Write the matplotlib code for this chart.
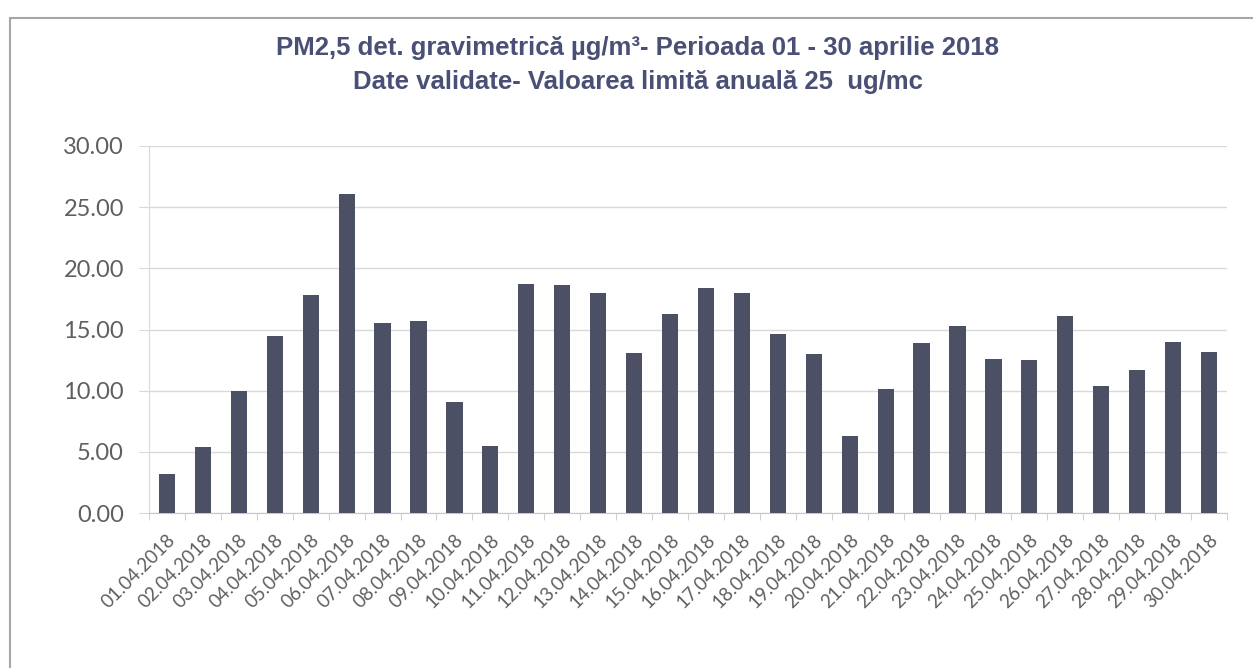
#!/usr/bin/env python3

import matplotlib.pyplot as plt
from matplotlib.patches import Rectangle
import numpy as np

zile = ["%02d.04.2018" % d for d in range(1, 31)]
pm25 = [3.2, 5.4, 10.0, 14.5, 17.8, 26.1, 15.5, 15.7, 9.1, 5.5,
        18.7, 18.6, 18.0, 13.1, 16.3, 18.4, 18.0, 14.6, 13.0, 6.3,
        10.1, 13.9, 15.3, 12.6, 12.5, 16.1, 10.4, 11.7, 14.0, 13.2]
yticks = [0, 5, 10, 15, 20, 25, 30]

titlu = "PM2,5 det. gravimetrică µg/m³- Perioada 01 - 30 aprilie 2018\nDate validate- Valoarea limită anuală 25  ug/mc"

fig = plt.figure(figsize=(12.53, 6.68), dpi=100)
ax = fig.add_axes([149/1253, 1-513/668, (1227-149)/1253, (513-146)/668])

# chenarul graficului
fig.patches.append(Rectangle((10/1253, -0.1), 1.1, 1.1-18/668,
                             transform=fig.transFigure, fill=False,
                             edgecolor="#a6a6a6", lw=1.5))

x = np.arange(len(zile))
ax.bar(x, pm25, width=0.45, color="#4b5065", zorder=3)

ax.set_xlim(-0.5, len(zile) - 0.5)
ax.set_ylim(0, 30)
ax.set_yticks(yticks)
ax.set_yticklabels(["%.2f" % v for v in yticks])
ax.yaxis.grid(True, color="#d9d9d9", lw=1)
ax.set_axisbelow(True)

ax.set_xticks(x)
ax.set_xticklabels(zile, rotation=45, ha="right", rotation_mode="anchor")
ax.set_xticks(np.arange(-0.5, len(zile)), minor=True)
ax.tick_params(axis="x", which="major", length=0, pad=13)
ax.tick_params(axis="x", which="minor", length=5, color="#c8c8c8")
ax.tick_params(axis="y", length=7, color="#d9d9d9", pad=11)
for lab in ax.get_xticklabels() + ax.get_yticklabels():
    lab.set_family("Lato")
    lab.set_color("#5f5f5f")
for lab in ax.get_yticklabels():
    lab.set_fontsize(17)
for lab in ax.get_xticklabels():
    lab.set_fontsize(13.5)

for s in ["top", "right"]:
    ax.spines[s].set_visible(False)
ax.spines["left"].set_color("#d9d9d9")
ax.spines["bottom"].set_color("#c8c8c8")

fig.text(0.509, 1-65/668, titlu, ha="center", va="center",
         fontsize=18.5, fontweight="bold", color="#4a4f75",
         family="Liberation Sans", linespacing=1.55)

fig.savefig("out.png", dpi=100)
